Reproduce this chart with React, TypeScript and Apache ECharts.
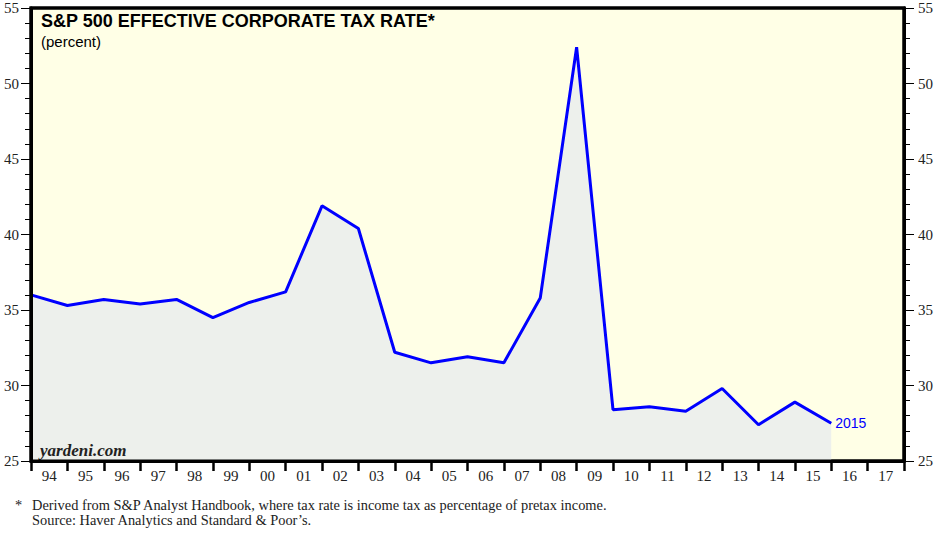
import React, { useEffect, useRef } from "react";
import * as echarts from "echarts";

const xLabels = ["94","95","96","97","98","99","00","01","02","03","04","05","06","07","08","09","10","11","12","13","14","15","16","17"];
const years = [1993,1994,1995,1996,1997,1998,1999,2000,2001,2002,2003,2004,2005,2006,2007,2008,2009,2010,2011,2012,2013,2014,2015];
const taxRate = [36.0,35.3,35.7,35.4,35.7,34.5,35.5,36.2,41.9,40.4,32.2,31.5,31.9,31.5,35.8,52.4,28.4,28.6,28.3,29.8,27.4,28.9,27.5];
const yTicks = [25, 30, 35, 40, 45, 50, 55];

const W = 946;
const H = 535;
const G = { left: 31, right: 42, top: 8, bottom: 74 };

export default function App() {
  const ref = useRef<HTMLDivElement>(null);
  useEffect(() => {
    if (!ref.current) return;
    const chart = echarts.init(ref.current, null, { renderer: "svg" });
    const firstYear = years[0];
    const data = years.map((y, i) => [y - firstYear, taxRate[i]]);
    const serif = "Liberation Serif";
    const sans = "Liberation Sans";
    const yAxisCommon = (pos: "left" | "right") => ({
      type: "value",
      position: pos,
      z: 10,
      min: yTicks[0],
      max: yTicks[yTicks.length - 1],
      interval: 5,
      axisLine: { show: true, onZero: false, lineStyle: { color: "#000", width: 3 } },
      axisTick: { show: true, length: 10, lineStyle: { color: "#000", width: 1 } },
      minorTick: { show: true, splitNumber: 5, length: 6, lineStyle: { color: "#000", width: 1 } },
      axisLabel: { color: "#222", fontFamily: serif, fontSize: 15, margin: pos === "left" ? 12 : 14 },
      splitLine: { show: false },
    });
    chart.setOption({
      animation: false,
      grid: {
        ...G,
        show: true, backgroundColor: "#FFFFE6", borderColor: "#000", borderWidth: 3,
      },
      xAxis: [
        {
          type: "category",
          data: xLabels,
          boundaryGap: true,
          position: "bottom",
          z: 10,
          axisLine: { show: true, onZero: false, lineStyle: { color: "#000", width: 3 } },
          axisTick: { show: true, interval: 0, length: 10, lineStyle: { color: "#000", width: 2.5 } },
          axisLabel: { interval: 0, color: "#222", fontFamily: serif, fontSize: 15, margin: 7 },
          splitLine: { show: false },
        },
        {
          type: "value",
          position: "bottom",
          min: 0,
          max: xLabels.length,
          show: false,
          axisLine: { onZero: false },
        },
      ],
      yAxis: [yAxisCommon("left"), yAxisCommon("right")],
      series: [
        {
          type: "line",
          xAxisIndex: 1,
          yAxisIndex: 0,
          data,
          symbol: "none",
          lineStyle: { color: "#0000FF", width: 3 },
          areaStyle: { color: "#EDF0EC", opacity: 1, origin: "start" },
          endLabel: {
            show: true,
            formatter: () => String(years[years.length - 1]),
            color: "#0000FF",
            fontFamily: sans,
            fontSize: 14,
            distance: 4,
          },
          z: 2,
        },
      ],
      graphic: [
        {
          type: "rect", z: 100, silent: true,
          shape: { x: G.left, y: G.top, width: W - G.left - G.right, height: H - G.top - G.bottom },
          style: { fill: "none", stroke: "#000", lineWidth: 3 },
        },
        {
          type: "text", left: 41, top: 12, z: 10,
          style: { text: "S&P 500 EFFECTIVE CORPORATE TAX RATE*", font: `bold 18px ${sans}`, fill: "#000" },
        },
        {
          type: "text", left: 41, top: 34, z: 10,
          style: { text: "(percent)", font: `15px ${sans}`, fill: "#000" },
        },
        {
          type: "text", left: 40, top: 442, z: 10,
          style: { text: "yardeni.com", font: `italic bold 17px ${serif}`, fill: "#222" },
        },
        {
          type: "text", left: 15, top: 498, z: 10,
          style: { text: "*", font: `14.4px ${serif}`, fill: "#222" },
        },
        {
          type: "text", left: 32, top: 498, z: 10,
          style: {
            text: "Derived from S&P Analyst Handbook, where tax rate is income tax as percentage of pretax income.",
            font: `14.4px ${serif}`, fill: "#222",
          },
        },
        {
          type: "text", left: 32, top: 513, z: 10,
          style: {
            text: "Source: Haver Analytics and Standard & Poor\u2019s.",
            font: `14.4px ${serif}`, fill: "#222",
          },
        },
      ],
    });
    return () => chart.dispose();
  }, []);
  return (
    <div
      ref={ref}
      style={{ position: "fixed", left: 0, top: 0, width: W, height: H, background: "#fff" }}
    />
  );
}
